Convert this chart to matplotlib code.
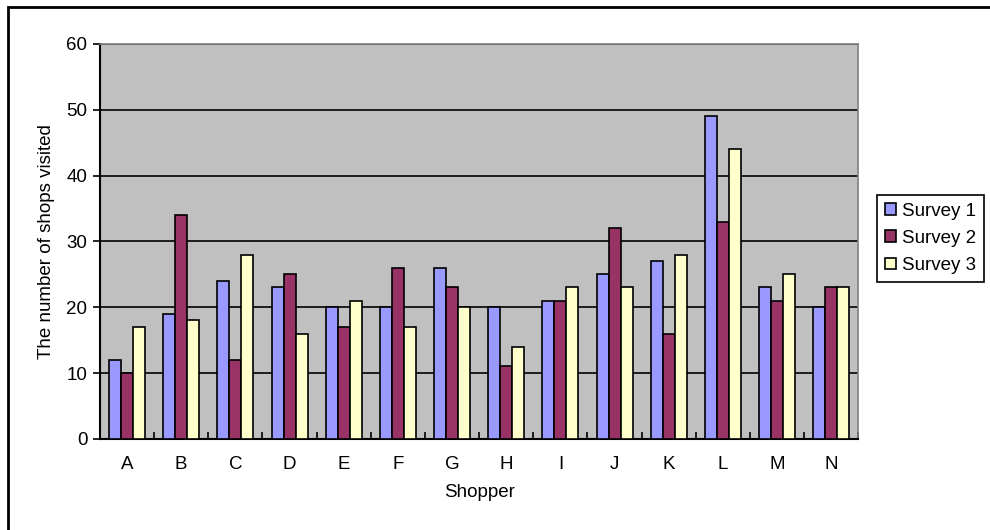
import matplotlib.pyplot as plt
import numpy as np
from matplotlib.patches import Rectangle

plt.rcParams['font.family'] = ['Liberation Sans', 'DejaVu Sans']

shoppers = ['A', 'B', 'C', 'D', 'E', 'F', 'G', 'H', 'I', 'J', 'K', 'L', 'M', 'N']
survey_1 = [12, 19, 24, 23, 20, 20, 26, 20, 21, 25, 27, 49, 23, 20]
survey_2 = [10, 34, 12, 25, 17, 26, 23, 11, 21, 32, 16, 33, 21, 23]
survey_3 = [17, 18, 28, 16, 21, 17, 20, 14, 23, 23, 28, 44, 25, 23]
series_names = ['Survey 1', 'Survey 2', 'Survey 3']
colors = ['#9999FF', '#993366', '#FFFFCC']

fs = 13.5

fig = plt.figure(figsize=(9.9, 5.3), dpi=100)
ax = fig.add_axes([0.101, 0.172, 0.766, 0.745])
ax.set_facecolor('#C0C0C0')

x = np.arange(len(shoppers))
w = 0.222
for i, (vals, name) in enumerate(zip([survey_1, survey_2, survey_3], series_names)):
    ax.bar(x + (i - 1) * w, vals, width=w, color=colors[i], edgecolor='black',
           linewidth=1.2, label=name, zorder=3)

ax.set_xlim(-0.5, len(shoppers) - 0.5)
ax.set_ylim(0, 60)
ax.set_yticks(range(0, 61, 10))
ax.yaxis.grid(True, color='black', linewidth=1.2, zorder=1)
ax.set_axisbelow(True)

ax.set_xticks(x)
ax.set_xticklabels(shoppers)
ax.set_xticks(np.arange(-0.5, len(shoppers), 1), minor=True)
ax.tick_params(axis='x', which='major', length=0, pad=12, labelsize=fs)
ax.tick_params(axis='x', which='minor', length=5, width=1.2, direction='in')
ax.tick_params(axis='y', length=5, width=1.2, direction='out', labelsize=fs, pad=4)

ax.spines['left'].set_linewidth(1.5)
ax.spines['bottom'].set_linewidth(1.5)
ax.spines['top'].set_color('#808080')
ax.spines['right'].set_color('#808080')
ax.spines['top'].set_linewidth(1.2)
ax.spines['right'].set_linewidth(1.2)

ax.set_xlabel('Shopper', fontsize=fs, labelpad=8)
ax.set_ylabel('The number of shops visited', fontsize=fs, labelpad=8)

leg = fig.legend(loc='upper left', bbox_to_anchor=(877 / 990, 1 - 195 / 530),
                 fancybox=False, framealpha=1, edgecolor='black', fontsize=fs,
                 handlelength=0.6, handleheight=0.6, handletextpad=0.35,
                 borderpad=0.4, labelspacing=0.55, borderaxespad=0)
leg.get_frame().set_linewidth(1.2)

fig.patches.append(Rectangle((8 / 990, -0.1), 1.2, 1 - 7 / 530 + 0.1,
                             transform=fig.transFigure, fill=False,
                             edgecolor='black', linewidth=2))

fig.savefig('out.png', dpi=100)
